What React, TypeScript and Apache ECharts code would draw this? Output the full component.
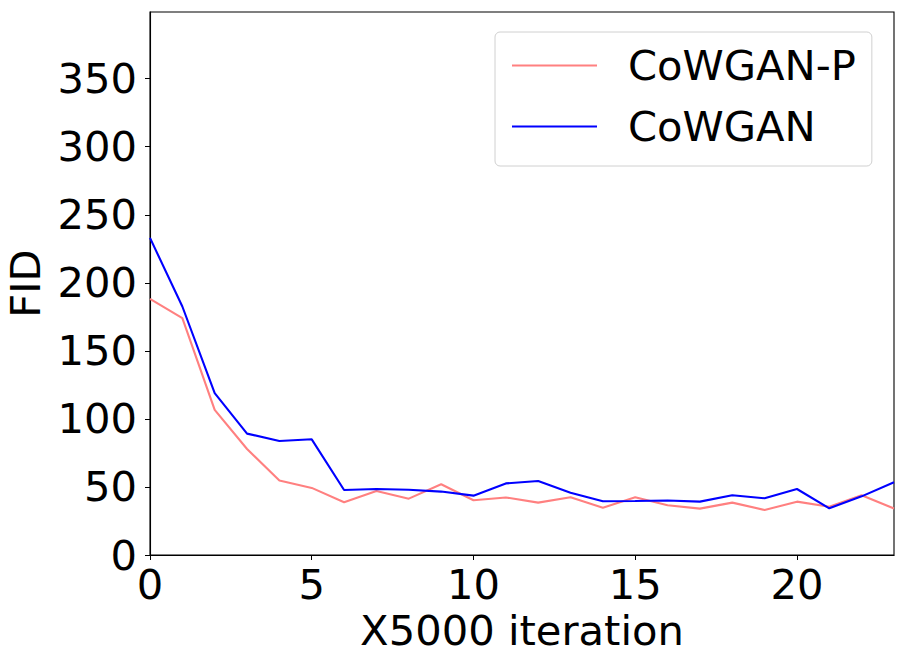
import React, { useEffect, useRef } from "react";
import * as echarts from "echarts";

const iterations = [0, 1, 2, 3, 4, 5, 6, 7, 8, 9, 10, 11, 12, 13, 14, 15, 16, 17, 18, 19, 20, 21, 22, 23];
const cowganP = [188.2, 174, 106.6, 77.9, 54.7, 49.3, 38.7, 47.1, 41.4, 52, 40.2, 42.3, 38.5, 42.4, 34.8, 42.4, 36.5, 34.1, 38.5, 33.1, 39.2, 35.5, 43.9, 34.1];
const cowgan = [233, 182.6, 118.9, 89.2, 83.8, 85, 47.8, 48.5, 48, 46.6, 43.6, 52.6, 54.4, 45.8, 39.5, 39.7, 40, 39.2, 43.9, 41.7, 48.5, 34.3, 43.1, 53.4];
const seriesNames = ["CoWGAN-P", "CoWGAN"];
const xTickStep = 5;
const yTickStep = 50;

const FONT = "DejaVu Sans";
const FS = 41.67;

export default function App() {
  const ref = useRef<HTMLDivElement>(null);
  useEffect(() => {
    if (!ref.current) return;
    const chart = echarts.init(ref.current, undefined, { renderer: "svg" });
    const toPairs = (vals: number[]) => iterations.map((x, i) => [x, vals[i]]);
    chart.setOption({
      animation: false,
      backgroundColor: "#fff",
      grid: {
        left: 150,
        top: 12,
        right: 11,
        bottom: 110,
        outerBoundsMode: "none",
        containLabel: false,
        show: true,
        borderColor: "#000",
        borderWidth: 1.1,
        backgroundColor: "transparent",
      },
      legend: {
        left: 495,
        top: 32,
        orient: "vertical",
        icon: "rect",
        itemWidth: 85,
        itemHeight: 2,
        itemGap: 14,
        padding: [10, 16, 16, 17],
        borderColor: "#d0d0d0",
        borderWidth: 1,
        borderRadius: 5,
        backgroundColor: "rgba(255,255,255,0.8)",
        textStyle: {
          fontFamily: FONT,
          fontSize: FS,
          color: "#000",
          lineHeight: 47,
          padding: [0, 0, 0, 26],
        },
        data: seriesNames,
      },
      xAxis: {
        type: "value",
        min: 0,
        max: 23,
        interval: xTickStep,
        name: "X5000 iteration",
        nameLocation: "middle",
        nameGap: 52,
        nameTextStyle: { fontFamily: FONT, fontSize: FS, color: "#000" },
        axisLine: { show: true, lineStyle: { color: "#000", width: 1.1 } },
        axisTick: { show: true, length: 5, lineStyle: { color: "#000" } },
        splitLine: { show: false },
        axisLabel: {
          fontFamily: FONT,
          fontSize: FS,
          color: "#000",
          margin: 8,
          showMaxLabel: false,
          formatter: (v: number) => (v % xTickStep === 0 ? String(v) : ""),
        },
      },
      yAxis: {
        type: "value",
        min: 0,
        max: 399,
        interval: yTickStep,
        name: "FID",
        nameLocation: "middle",
        nameGap: 89,
        nameTextStyle: { fontFamily: FONT, fontSize: FS, color: "#000" },
        axisLine: { show: true, lineStyle: { color: "#000", width: 1.1 } },
        axisTick: { show: true, length: 5, lineStyle: { color: "#000" } },
        splitLine: { show: false },
        axisLabel: {
          fontFamily: FONT,
          fontSize: FS,
          color: "#000",
          margin: 13,
          showMaxLabel: false,
          formatter: (v: number) => (v % yTickStep === 0 ? String(v) : ""),
        },
      },
      series: [
        {
          name: seriesNames[0],
          type: "line",
          data: toPairs(cowganP),
          symbol: "none",
          lineStyle: { color: "#ff8080", width: 2.1 },
          itemStyle: { color: "#ff8080" },
        },
        {
          name: seriesNames[1],
          type: "line",
          data: toPairs(cowgan),
          symbol: "none",
          lineStyle: { color: "#0000ff", width: 2.1 },
          itemStyle: { color: "#0000ff" },
        },
      ],
    });
    return () => chart.dispose();
  }, []);
  return (
    <div
      ref={ref}
      style={{ position: "fixed", left: 0, top: 0, width: 905, height: 665 }}
    />
  );
}
